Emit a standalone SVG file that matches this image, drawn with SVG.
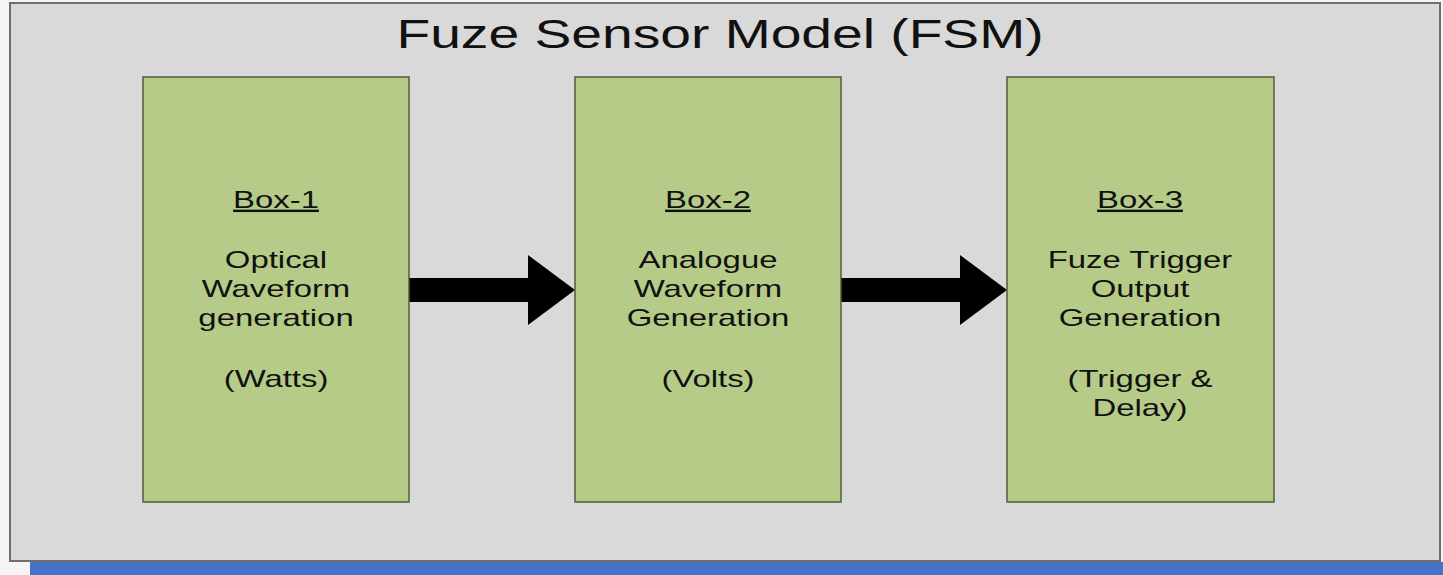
<svg xmlns="http://www.w3.org/2000/svg" width="1443" height="575" viewBox="0 0 1443 575">
<style>
.box{fill:#b6cb87;stroke:#4f5e3a;stroke-width:1.5}
.t{font-family:"Liberation Sans",Arial,sans-serif;font-size:24px;fill:#111;text-anchor:middle}
.title{font-family:"Liberation Sans",Arial,sans-serif;font-size:40px;fill:#111;text-anchor:middle}
.u{text-decoration:underline}
.arrow{fill:#000}
</style>
<rect x="0" y="0" width="1443" height="575" fill="#f4f4f4"/>
<rect x="30" y="562" width="1413" height="13" fill="#4472c4"/>
<rect x="10" y="3" width="1430" height="558" fill="#d9d9d9" stroke="#6e6e6e" stroke-width="2"/>
<text class="title" transform="translate(720,0) scale(1.38,1)" x="0" y="48">Fuze Sensor Model (FSM)</text>
<g id="connectors">
<polygon class="arrow" points="409,278 528,278 528,255 575,290 528,325 528,302 409,302"/>
<polygon class="arrow" points="841,278 960,278 960,255 1007,290 960,325 960,302 841,302"/>
</g>
<g id="box1">
<rect class="box" x="143" y="77" width="266" height="425"/>
<text class="t" transform="translate(276,0) scale(1.37,1)"><tspan class="u" x="0" y="208">Box-1</tspan><tspan x="0" y="268">Optical</tspan><tspan x="0" y="297">Waveform</tspan><tspan x="0" y="326">generation</tspan><tspan x="0" y="387">(Watts)</tspan></text>
</g>
<g id="box2">
<rect class="box" x="575" y="77" width="266" height="425"/>
<text class="t" transform="translate(708,0) scale(1.37,1)"><tspan class="u" x="0" y="208">Box-2</tspan><tspan x="0" y="268">Analogue</tspan><tspan x="0" y="297">Waveform</tspan><tspan x="0" y="326">Generation</tspan><tspan x="0" y="387">(Volts)</tspan></text>
</g>
<g id="box3">
<rect class="box" x="1007" y="77" width="267" height="425"/>
<text class="t" transform="translate(1140,0) scale(1.37,1)"><tspan class="u" x="0" y="208">Box-3</tspan><tspan x="0" y="268">Fuze Trigger</tspan><tspan x="0" y="297">Output</tspan><tspan x="0" y="326">Generation</tspan><tspan x="0" y="387">(Trigger &amp;</tspan><tspan x="0" y="416">Delay)</tspan></text>
</g>
</svg>
